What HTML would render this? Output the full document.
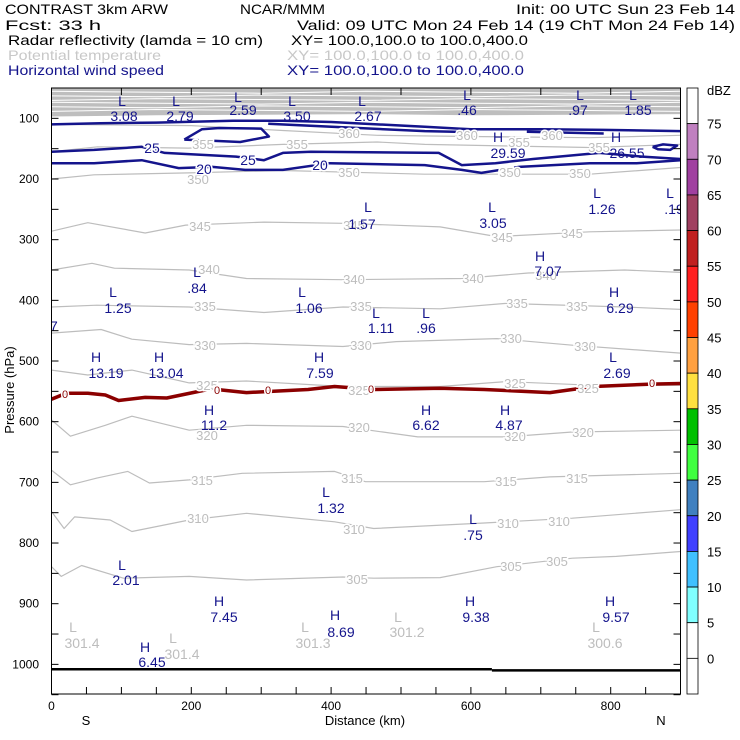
<!DOCTYPE html>
<html><head><meta charset="utf-8"><style>
html,body{margin:0;padding:0;background:#fff;}
svg{display:block;font-family:"Liberation Sans",sans-serif;}
.hd{font-size:14px;}
.nv{fill:#14148c;font-size:14px;text-anchor:middle;}
.gl{fill:#bdbdbd;font-size:13px;text-anchor:middle;stroke:#fff;stroke-width:3px;paint-order:stroke;}
.gh{fill:#bdbdbd;font-size:14px;text-anchor:middle;}
.tk{font-size:12px;fill:#000;}
</style></head><body>
<svg id="chart" width="740" height="740" viewBox="0 0 740 740" xmlns="http://www.w3.org/2000/svg">
<g class="hd">
<text x="5" y="14" textLength="163" lengthAdjust="spacingAndGlyphs">CONTRAST  3km ARW</text>
<text x="240" y="14" textLength="85" lengthAdjust="spacingAndGlyphs">NCAR/MMM</text>
<text x="516" y="14" textLength="219" lengthAdjust="spacingAndGlyphs">Init: 00 UTC Sun 23 Feb 14</text>
<text x="5" y="30" textLength="96" lengthAdjust="spacingAndGlyphs">Fcst:    33 h</text>
<text x="297" y="30" textLength="438" lengthAdjust="spacingAndGlyphs">Valid: 09 UTC Mon 24 Feb 14 (19 ChT Mon 24 Feb 14)</text>
<text x="8" y="45" textLength="255" lengthAdjust="spacingAndGlyphs">Radar reflectivity (lamda = 10 cm)</text>
<text x="291" y="45" textLength="237" lengthAdjust="spacingAndGlyphs">XY= 100.0,100.0 to 100.0,400.0</text>
<text x="8" y="60" fill="#c8c8c8" textLength="153" lengthAdjust="spacingAndGlyphs">Potential temperature</text>
<text x="287" y="60" fill="#c8c8c8" textLength="237" lengthAdjust="spacingAndGlyphs">XY= 100.0,100.0 to 100.0,400.0</text>
<text x="8" y="75" fill="#14148c" textLength="156" lengthAdjust="spacingAndGlyphs">Horizontal wind speed</text>
<text x="287" y="75" fill="#14148c" textLength="237" lengthAdjust="spacingAndGlyphs">XY= 100.0,100.0 to 100.0,400.0</text>
</g>
<defs><clipPath id="pc"><rect x="51.5" y="88" width="629" height="606"/></clipPath></defs>
<g id="plot" clip-path="url(#pc)"></g>
<g id="labels" clip-path="url(#pc)">
<text class="gl" x="349" y="138">360</text><text class="gl" x="467" y="140">360</text><text class="gl" x="552" y="140">360</text>
<text class="gl" x="203" y="149">355</text><text class="gl" x="297" y="149">355</text><text class="gl" x="519" y="147">355</text><text class="gl" x="599" y="152">355</text>
<text class="gl" x="198" y="184">350</text><text class="gl" x="349" y="177">350</text><text class="gl" x="510" y="177">350</text><text class="gl" x="580" y="178">350</text>
<text class="gl" x="200" y="231">345</text><text class="gl" x="354" y="230">345</text><text class="gl" x="502" y="242">345</text><text class="gl" x="572" y="238">345</text>
<text class="gl" x="209" y="274">340</text><text class="gl" x="354" y="284">340</text><text class="gl" x="473" y="283">340</text><text class="gl" x="546" y="280">340</text>
<text class="gl" x="205" y="311">335</text><text class="gl" x="361" y="311">335</text><text class="gl" x="517" y="308">335</text><text class="gl" x="577" y="311">335</text>
<text class="gl" x="205" y="350">330</text><text class="gl" x="361" y="350">330</text><text class="gl" x="511" y="343">330</text><text class="gl" x="585" y="351">330</text>
<text class="gl" x="207" y="390">325</text><text class="gl" x="359" y="395">325</text><text class="gl" x="515" y="388">325</text><text class="gl" x="588" y="393">325</text>
<text class="gl" x="207" y="440">320</text><text class="gl" x="359" y="432">320</text><text class="gl" x="515" y="441">320</text><text class="gl" x="583" y="437">320</text>
<text class="gl" x="202" y="485">315</text><text class="gl" x="352" y="483">315</text><text class="gl" x="506" y="486">315</text><text class="gl" x="577" y="483">315</text>
<text class="gl" x="198" y="523">310</text><text class="gl" x="354" y="534">310</text><text class="gl" x="508" y="528">310</text><text class="gl" x="559" y="526">310</text>
<text class="gl" x="357" y="584">305</text><text class="gl" x="511" y="571">305</text><text class="gl" x="557" y="566">305</text>
<g style="fill:#8b0000;font-size:11px;text-anchor:middle;stroke:#fff;stroke-width:3px;paint-order:stroke">
<text x="65" y="398">0</text><text x="217" y="394">0</text><text x="268" y="394">0</text><text x="371" y="393">0</text><text x="652" y="387">0</text></g>
<g style="fill:#14148c;font-size:14px;text-anchor:middle;stroke:#fff;stroke-width:3px;paint-order:stroke">
<text x="152" y="153">25</text><text x="248" y="165">25</text><text x="204" y="174">20</text><text x="320" y="170">20</text></g>
<g>
<text class="nv" x="122" y="106">L</text><text class="nv" x="124" y="121">3.08</text>
<text class="nv" x="176" y="106">L</text><text class="nv" x="180" y="121">2.79</text>
<text class="nv" x="238" y="102">L</text><text class="nv" x="243" y="115">2.59</text>
<text class="nv" x="292" y="106">L</text><text class="nv" x="297" y="121">3.50</text>
<text class="nv" x="362" y="106">L</text><text class="nv" x="368" y="121">2.67</text>
<text class="nv" x="467" y="100">L</text><text class="nv" x="467" y="115">.46</text>
<text class="nv" x="580" y="100">L</text><text class="nv" x="578" y="115">.97</text>
<text class="nv" x="633" y="100">L</text><text class="nv" x="638" y="115">1.85</text>
<text class="nv" x="498" y="142">H</text><text class="nv" x="508" y="158">29.59</text>
<text class="nv" x="616" y="142">H</text><text class="nv" x="627" y="158">26.55</text>
<text class="nv" x="368" y="212">L</text><text class="nv" x="362" y="229">1.57</text>
<text class="nv" x="492" y="212">L</text><text class="nv" x="493" y="228">3.05</text>
<text class="nv" x="597" y="198">L</text><text class="nv" x="602" y="214">1.26</text>
<text class="nv" x="670" y="198">L</text><text class="nv" x="674" y="214">.19</text>
<text class="nv" x="540" y="261">H</text><text class="nv" x="548" y="276">7.07</text>
<text class="nv" x="197" y="277">L</text><text class="nv" x="197" y="293">.84</text>
<text class="nv" x="113" y="297">L</text><text class="nv" x="118" y="313">1.25</text>
<text class="nv" x="302" y="297">L</text><text class="nv" x="309" y="313">1.06</text>
<text class="nv" x="376" y="318">L</text><text class="nv" x="381" y="333">1.11</text>
<text class="nv" x="426" y="318">L</text><text class="nv" x="426" y="333">.96</text>
<text class="nv" x="614" y="297">H</text><text class="nv" x="620" y="313">6.29</text>
<text class="nv" x="48" y="331">.57</text>
<text class="nv" x="96" y="362">H</text><text class="nv" x="106" y="378">13.19</text>
<text class="nv" x="159" y="362">H</text><text class="nv" x="166" y="378">13.04</text>
<text class="nv" x="319" y="362">H</text><text class="nv" x="320" y="378">7.59</text>
<text class="nv" x="613" y="362">L</text><text class="nv" x="617" y="378">2.69</text>
<text class="nv" x="209" y="415">H</text><text class="nv" x="214" y="430">11.2</text>
<text class="nv" x="426" y="415">H</text><text class="nv" x="426" y="430">6.62</text>
<text class="nv" x="505" y="415">H</text><text class="nv" x="509" y="430">4.87</text>
<text class="nv" x="326" y="497">L</text><text class="nv" x="331" y="513">1.32</text>
<text class="nv" x="473" y="524">L</text><text class="nv" x="473" y="540">.75</text>
<text class="nv" x="122" y="570">L</text><text class="nv" x="126" y="585">2.01</text>
<text class="nv" x="219" y="606">H</text><text class="nv" x="224" y="622">7.45</text>
<text class="nv" x="335" y="620">H</text><text class="nv" x="341" y="637">8.69</text>
<text class="nv" x="470" y="606">H</text><text class="nv" x="476" y="622">9.38</text>
<text class="nv" x="610" y="606">H</text><text class="nv" x="616" y="622">9.57</text>
<text class="nv" x="145" y="652">H</text><text class="nv" x="152" y="667">6.45</text>
<text class="gh" x="73" y="632">L</text><text class="gh" x="82" y="648">301.4</text>
<text class="gh" x="173" y="643">L</text><text class="gh" x="182" y="659">301.4</text>
<text class="gh" x="305" y="632">L</text><text class="gh" x="313" y="648">301.3</text>
<text class="gh" x="398" y="622">L</text><text class="gh" x="407" y="637">301.2</text>
<text class="gh" x="596" y="632">L</text><text class="gh" x="605" y="648">300.6</text>
</g>
</g>
<g id="axes"></g>
<text x="14" y="390" transform="rotate(-90 14 390)" text-anchor="middle" font-size="13">Pressure (hPa)</text>
<text x="365" y="725" text-anchor="middle" font-size="13">Distance (km)</text>
<text x="86" y="725" text-anchor="middle" font-size="13">S</text>
<text x="661" y="725" text-anchor="middle" font-size="13">N</text>
<g id="cbar"></g>
<text x="707" y="95" font-size="13">dBZ</text>
</svg>
<script>
// ---- data ----
const thetaLevels = [360,355,350,345,340,335,330,325,320,315,310,305];
const theta360 = [[0,110],[200,112],[331,120],[466,128],[600,130],[770,132],[900,128]];
const theta355 = [[0,155],[66,147],[196,149],[331,143],[466,139],[534,143],[770,148],[900,143]];
const theta350 = [[0,200],[61,193],[196,190],[331,186],[534,192],[770,192],[900,181]];
const theta345 = [[0,286],[52,272],[134,289],[192,276],[304,271],[417,273],[556,279],[637,295],[770,287],[900,284]];
const theta340 = [[0,350],[58,339],[90,347],[197,350],[279,364],[417,366],[587,364],[682,355],[820,350],[900,354]];
const theta335 = [[0,411],[65,408],[197,411],[304,420],[417,411],[556,414],[650,405],[820,411],[900,415]];
const theta330 = [[0,454],[71,448],[115,464],[197,473],[279,471],[417,476],[493,468],[637,463],[745,474],[900,487]];
const theta325 = [[0,515],[52,523],[115,515],[197,536],[279,533],[417,542],[556,542],[650,534],[776,540],[900,540]];
const theta320 = [[0,597],[27,624],[77,606],[115,591],[197,614],[279,606],[417,608],[524,625],[650,625],[745,617],[900,614]];
const theta315 = [[0,680],[27,704],[65,693],[109,682],[140,701],[197,696],[273,685],[405,682],[449,699],[619,699],[713,691],[900,685]];
const theta310 = [[0,748],[18,776],[33,757],[84,762],[115,781],[197,762],[279,751],[405,765],[461,776],[619,767],[745,759],[900,745]];
const theta305 = [[0,839],[14,855],[43,837],[103,858],[197,855],[279,861],[417,856],[461,858],[556,857],[637,839],[745,825],[808,822],[900,814]];
const stratBandEdge = [[0,97],[150,95],[300,94],[450,93],[600,95],[750,94],[900,93]];
const stratLines = [[0,57],[0,63],[0,69],[0,75],[0,81],[0,87]];
const zeroLine = [[0,563],[21,553],[52,553],[77,556],[96,565],[134,560],[165,561],[228,546],[279,552],[367,547],[405,542],[461,547],[556,545],[619,547],[713,552],[776,542],[858,538],[900,537]];
const wind25 = [[0,155],[61,152],[129,147],[162,157],[264,163],[304,169],[331,157],[371,155],[554,157],[587,177],[635,174],[689,167],[784,157],[845,163],[900,167]];
const wind20 = [[0,174],[61,174],[129,169],[182,182],[230,180],[277,185],[331,185],[398,174],[534,177],[587,185],[615,190],[669,180],[770,174],[837,174],[900,169]];
const wind30a = [[0,110],[70,108],[150,107],[260,104],[331,104],[400,106],[534,114],[600,118],[700,118],[790,119],[900,121]];
const wind30b = [[310,109],[420,115],[534,121],[610,123]];
const wind30c = [[680,122],[790,125]];
const wind30loop = [[190,135],[215,118],[240,116],[300,117],[311,130],[270,139],[230,137],[190,135]];
const wind30small = [[860,147],[875,143],[895,145],[885,152],[868,151],[860,147]];
const groundLeft = [[0,1008],[630,1008]];
const groundRight = [[630,1010],[900,1010]];
const yTicks = [100,200,300,400,500,600,700,800,900,1000];
const xTicks = [0,200,400,600,800];
const dbzLevels = [75,70,65,60,55,50,45,40,35,30,25,20,15,10,5,0];
const dbzColors = ["#ffffff","#c080c0","#a040a0","#a04060","#c02020","#ff2020","#ff4000","#ffa040","#ffe040","#00c000","#40ff40","#4080c0","#4040ff","#40c0ff","#80ffff","#ffffff","#ffffff"];

// ---- scales ----
const X = km => 51.5 + km*0.699;
const Y = p => 88 + (p-50)*0.6067;
const NS = "http://www.w3.org/2000/svg";
const plot = document.getElementById('plot');
function pts(a){return a.map(d=>X(d[0]).toFixed(1)+','+Y(d[1]).toFixed(1)).join(' ');}
function line(parent,a,stroke,w,name){
  const el=document.createElementNS(NS,'polyline');
  el.setAttribute('points',pts(a));el.setAttribute('fill','none');
  el.setAttribute('stroke',stroke);el.setAttribute('stroke-width',w);
  el.setAttribute('stroke-linejoin','round');
  
  
  parent.appendChild(el);return el;
}
// strat band
const band=document.createElementNS(NS,'polygon');
band.setAttribute('points',X(0)+','+Y(50)+' '+pts(stratBandEdge)+' '+X(900)+','+Y(50));
band.setAttribute('fill','#bebebe');


plot.appendChild(band);
stratLines.forEach((s,i)=>{
  const a=stratBandEdge.map((d,j)=>[d[0], s[1]+((j+i)%3-1)*1.5]);
  line(plot,a,'#ffffff',1,'strat-theta-line');
});
[theta360,theta355,theta350,theta345,theta340,theta335,theta330,theta325,theta320,theta315,theta310,theta305].forEach((a,i)=>{
  line(plot,a,'#bdbdbd',1.2,'theta-contour-'+thetaLevels[i]);
});
line(plot,zeroLine,'#8b0000',3.5,'zero-degree-line');
[wind30a,wind30b,wind30c,wind30loop,wind30small].forEach(a=>line(plot,a,'#14148c',2.5,'wind-contour-30'));
line(plot,wind25,'#14148c',2.5,'wind-contour-25');
line(plot,wind20,'#14148c',2.5,'wind-contour-20');
line(plot,groundLeft,'#000',2.5,'terrain-line');
line(plot,groundRight,'#000',2.5,'terrain-line');

// axes
const ax=document.getElementById('axes');
function seg(x1,y1,x2,y2,name){
  const l=document.createElementNS(NS,'line');
  l.setAttribute('x1',x1);l.setAttribute('y1',y1);l.setAttribute('x2',x2);l.setAttribute('y2',y2);
  l.setAttribute('stroke','#000');l.setAttribute('stroke-width',1);
  
  
  ax.appendChild(l);
}
const frame=document.createElementNS(NS,'rect');
frame.setAttribute('x',51.5);frame.setAttribute('y',88);frame.setAttribute('width',629);frame.setAttribute('height',606);
frame.setAttribute('fill','none');frame.setAttribute('stroke','#000');


ax.appendChild(frame);
for(let p=100;p<=1050;p+=50){seg(51.5,Y(p),58.5,Y(p),'y-tick');seg(673.5,Y(p),680.5,Y(p),'y-tick');}
for(let k=50;k<900;k+=50){seg(X(k),694,X(k),687,'x-tick');}
for(let k=100;k<900;k+=100){seg(X(k),88,X(k),95,'x-tick-top');}
yTicks.forEach(p=>{
  const t=document.createElementNS(NS,'text');
  t.setAttribute('x',39);t.setAttribute('y',Y(p)+4);t.setAttribute('text-anchor','end');t.setAttribute('class','tk');
  t.textContent=p;
  
  
  ax.appendChild(t);
});
xTicks.forEach(k=>{
  const t=document.createElementNS(NS,'text');
  t.setAttribute('x',X(k));t.setAttribute('y',710);t.setAttribute('text-anchor','middle');t.setAttribute('class','tk');
  t.textContent=k;
  
  
  ax.appendChild(t);
});
// colorbar
const cb=document.getElementById('cbar');
const ch=606/dbzColors.length;
dbzColors.forEach((c,i)=>{
  const r=document.createElementNS(NS,'rect');
  r.setAttribute('x',687);r.setAttribute('y',88+i*ch);r.setAttribute('width',11);r.setAttribute('height',ch);
  r.setAttribute('fill',c);r.setAttribute('stroke','#000');r.setAttribute('stroke-width',0.8);
  
  
  cb.appendChild(r);
});
dbzLevels.forEach((v,i)=>{
  const t=document.createElementNS(NS,'text');
  t.setAttribute('x',707);t.setAttribute('y',88+(i+1)*ch+5);t.setAttribute('font-size',13);
  t.textContent=v;
  
  
  cb.appendChild(t);
});
</script>
</body></html>
